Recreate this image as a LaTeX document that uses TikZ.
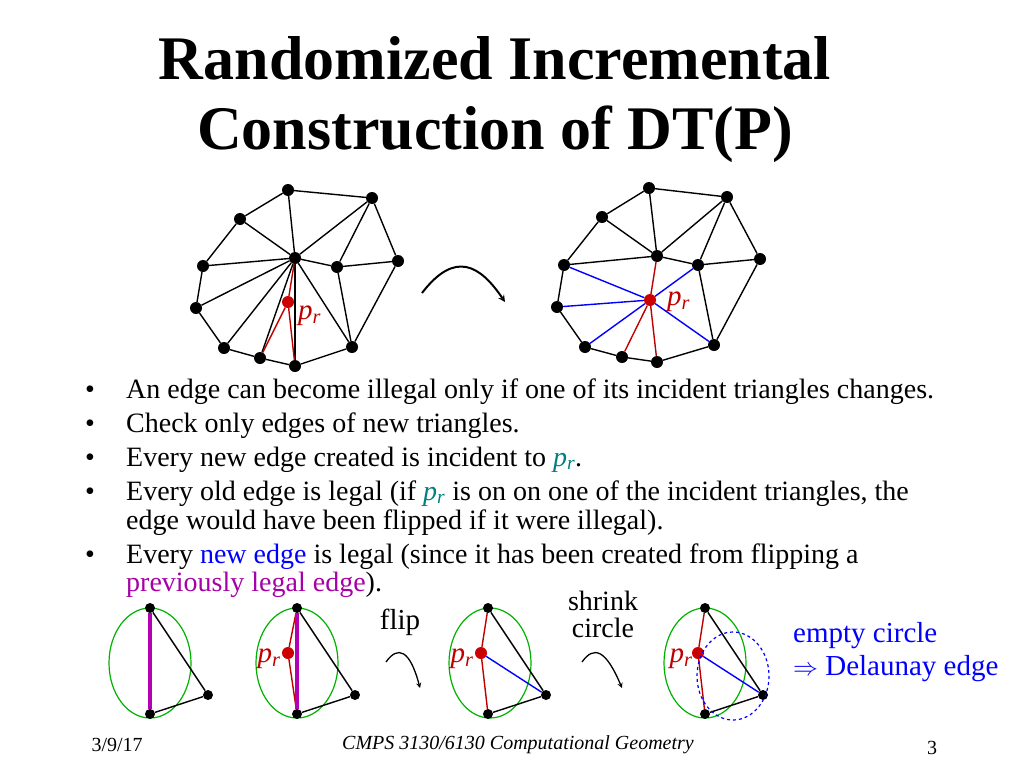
\documentclass[tikz,border=0pt]{standalone}
\usepackage{fontspec}
\setmainfont{Liberation Serif}
\usepackage{amssymb}
\newcommand{\prr}{\textit{p}\textsubscript{\textit{r}}}
\begin{document}
\begin{tikzpicture}[x=1pt,y=-1pt,
 dot/.style={circle,fill=black,inner sep=0pt,minimum size=12pt},
 rdot/.style={circle,fill=red!80!black,inner sep=0pt,minimum size=12pt},
 e/.style={black,line width=1.4pt},
 re/.style={red!75!black,line width=1.4pt},
 be/.style={blue,line width=1.4pt},
 pe/.style={violet!60!magenta,line width=3.5pt},
 gc/.style={green!70!black,line width=1.2pt},
 lab/.style={font=\fontsize{29}{33}\selectfont,inner sep=0pt}]
\useasboundingbox (0,0) rectangle (1024,768);
\node[font=\bfseries\fontsize{62}{70}\selectfont,align=center] (title) at (495,100) {Randomized Incremental\\Construction of DT(P)};
% left triangulation
\foreach \n/\x/\y in {a/288/190,b/372/198,c/240/219,d/295/258,e/337/267,f/398/261,g/203/266,h/196/308,i/224/348,j/260/358,k/295/366,l/352/347}{\node[dot] (L\n) at (\x,\y) {};}
\node[rdot] (Lp) at (288,302) {};
\node[lab,text=red!75!black,anchor=west] (Lpl) at (298,316) {\prr};
\foreach \u/\v in {a/b,a/c,a/d,b/d,b/e,b/f,c/g,c/d,g/d,g/h,h/d,h/i,i/d,i/j,j/d,j/k,k/l,d/k,d/e,d/l,e/f,e/l,f/l}{\draw[e] (L\u)--(L\v);}
\draw[re] (Lj)--(Lp)--(Ld); \draw[re] (Lp)--(Lk);
% right triangulation
\foreach \n/\x/\y in {a/649/188,b/727/197,c/602/217,d/657/256,e/698/265,f/760/259,g/564/265,h/557/307,i/585/347,j/622/357,k/657/362,l/714/345}{\node[dot] (R\n) at (\x,\y) {};}
\node[rdot] (Rp) at (650,300) {};
\node[lab,text=red!75!black,anchor=west] (Rpl) at (667,302) {\prr};
\foreach \u/\v in {a/b,a/c,a/d,b/d,b/e,b/f,c/g,c/d,g/d,g/h,h/i,i/j,j/k,k/l,d/e,e/f,e/l,f/l}{\draw[e] (R\u)--(R\v);}
\foreach \u in {g,h,i,e,l}{\draw[be] (Rp)--(R\u);}
\foreach \u in {d,j,k}{\draw[re] (Rp)--(R\u);}
\coordinate (ar1) at (422,293); \coordinate (ar2) at (505,302);
\draw[line width=2pt,-stealth] (ar1) .. controls (455,250) and (480,265) .. (ar2);
% bullets
\begin{scope}[every node/.style={anchor=base west,inner sep=0pt,font=\fontsize{28}{32}\selectfont}]
\node (b1) at (85,398) {•}; \node (t1) at (126,398) {An edge can become illegal only if one of its incident triangles changes.};
\node (b2) at (85,432) {•}; \node (t2) at (126,432) {Check only edges of new triangles.};
\node (b3) at (85,466) {•}; \node (t3) at (126,466) {Every new edge created is incident to \textcolor{teal}{\prr}.};
\node (b4) at (85,500) {•}; \node (t4) at (126,500) {Every old edge is legal (if \textcolor{teal}{\prr} is on on one of the incident triangles, the};
\node (t4b) at (126,529) {edge would have been flipped if it were illegal).};
\node (b5) at (85,563) {•}; \node (t5) at (126,563) {Every \textcolor{blue}{new edge} is legal (since it has been created from flipping a};
\node (t5b) at (126,591) {\textcolor{violet!70!magenta}{previously legal edge}).};
\end{scope}
% circles
\foreach \i/\cx in {1/150,2/297,3/490,4/705}{\draw[gc] (\cx,663) ellipse (41 and 55);}
\foreach \i/\cx in {1/150,2/297,3/488,4/705}{
 \node[dot,minimum size=10pt] (T\i) at (\cx,608) {};
 \node[dot,minimum size=10pt] (B\i) at (\cx,714) {};
 \node[dot,minimum size=10pt] (S\i) at (\cx+58,695) {};}
\draw[pe] (T1)--(B1); \draw[e] (T1)--(S1)--(B1);
\node[rdot] (P2) at (288,653) {};
\draw[re] (T2)--(P2)--(B2); \draw[pe] (T2)--(B2); \draw[e] (T2)--(S2)--(B2);
\node[rdot] (P3) at (481,653) {};
\draw[re] (T3)--(P3)--(B3); \draw[be] (P3)--(S3); \draw[e] (T3)--(S3)--(B3);
\node[rdot] (P4) at (698,653) {};
\draw[re] (T4)--(P4)--(B4); \draw[be] (P4)--(S4); \draw[e] (T4)--(S4)--(B4);
\draw[blue,dashed,line width=1.2pt] (733,676) ellipse (36 and 44);
\node[lab,text=red!75!black] (l2) at (269,659) {\prr};
\node[lab,text=red!75!black] (l3) at (462,659) {\prr};
\node[lab,text=red!75!black] (l4) at (681,659) {\prr};
\node[lab] (flip) at (400,622) {flip};
\node[lab,align=center,font=\fontsize{28}{27}\selectfont] (shr) at (603,614) {shrink\\circle};
\draw[line width=1.3pt,-stealth] (386,662) .. controls (398,645) and (410,650) .. (420,688);
\draw[line width=1.3pt,-stealth] (582,662) .. controls (594,645) and (606,650) .. (622,688);
\node[lab,text=blue,anchor=west] (ec) at (793,636) {empty circle};
\node[lab,text=blue,anchor=west] (de) at (793,669) {$\Rightarrow$ Delaunay edge};
\node[font=\fontsize{20}{22}\selectfont,anchor=west] (date) at (88,745) {3/9/17};
\node[font=\itshape\fontsize{20}{22}\selectfont] (foot) at (518,745) {CMPS 3130/6130 Computational Geometry};
\node[font=\fontsize{20}{22}\selectfont] (pg) at (932,748) {3};
\end{tikzpicture}
\end{document}
